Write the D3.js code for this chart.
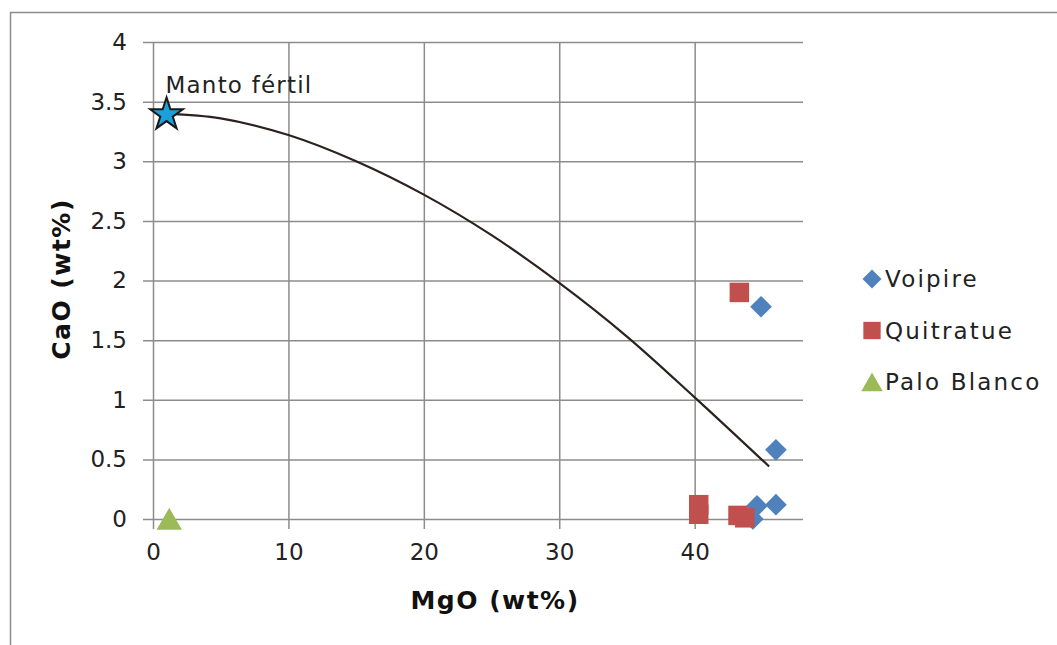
<!DOCTYPE html>
<html>
<head>
<meta charset="utf-8">
<script src="https://cdn.jsdelivr.net/npm/d3@7"></script>
<style>
  html, body { margin: 0; padding: 0; background: #fff; }
  svg { display: block; font-family: "DejaVu Sans", Verdana, sans-serif; }
</style>
</head>
<body>
<svg id="chart" width="1057" height="645"></svg>
<script>
// Series: MgO (wt%) vs CaO (wt%)
const voipireMgO = [44.9, 46.0, 46.0, 44.6, 44.3];
const voipireCaO = [1.78, 0.58, 0.12, 0.11, 0.00];

const quitratueMgO = [43.3, 40.3, 40.3, 43.2, 43.7];
const quitratueCaO = [1.90, 0.12, 0.04, 0.03, 0.01];

const paloBlancoMgO = [1.2];
const paloBlancoCaO = [0.0];

const mantoMgO = [1.0];
const mantoCaO = [3.4];

// Melting trend from fertile mantle
const trendMgO = [1.0, 5, 10, 15, 20, 25, 30, 35, 40, 45.5];
const trendCaO = [3.40, 3.36, 3.22, 3.00, 2.72, 2.38, 1.98, 1.53, 1.02, 0.44];

const xTicks = [0, 10, 20, 30, 40];
const yTicks = [0, 0.5, 1, 1.5, 2, 2.5, 3, 3.5, 4];

const seriesNames = ["Voipire", "Quitratue", "Palo Blanco"];
const colors = { "Voipire": "#4f81bd", "Quitratue": "#c0504d", "Palo Blanco": "#9bbb59" };

const svg = d3.select("#chart");
const plot = { left: 153, right: 803, top: 42, bottom: 519 };

const x = d3.scaleLinear().domain([0, 48]).range([plot.left, plot.right]);
const y = d3.scaleLinear().domain([0, 4]).range([plot.bottom, plot.top]);

// outer chart frame
svg.append("rect")
  .attr("x", 10.5).attr("y", 12.5)
  .attr("width", 1100).attr("height", 700)
  .attr("fill", "none").attr("stroke", "#8c8c8c").attr("stroke-width", 1.5);

const gridColor = "#8c8c8c";

// horizontal gridlines + y axis ticks
const yAxis = d3.axisLeft(y).tickValues(yTicks)
  .tickSize(-(plot.right - plot.left)).tickPadding(14)
  .tickFormat(d => String(d));
const gy = svg.append("g").attr("transform", `translate(${plot.left},0)`).call(yAxis);
gy.select(".domain").remove();
gy.selectAll(".tick line").attr("stroke", gridColor).attr("stroke-width", 1.5)
  .attr("x1", -10);
gy.selectAll(".tick text").attr("font-size", 23).attr("fill", "#222")
  .attr("font-family", "DejaVu Sans, Verdana, sans-serif").attr("x", -26);

// vertical gridlines + x axis ticks
const xAxis = d3.axisBottom(x).tickValues(xTicks)
  .tickSize(-(plot.bottom - plot.top)).tickPadding(20)
  .tickFormat(d => String(d));
const gx = svg.append("g").attr("transform", `translate(0,${plot.bottom})`).call(xAxis);
gx.select(".domain").remove();
gx.selectAll(".tick line").attr("stroke", gridColor).attr("stroke-width", 1.5)
  .attr("y1", 10);
gx.selectAll(".tick text").attr("font-size", 23).attr("fill", "#222")
  .attr("font-family", "DejaVu Sans, Verdana, sans-serif").attr("y", 25);

// axis titles
svg.append("text")
  .attr("x", 495).attr("y", 609)
  .attr("text-anchor", "middle").attr("font-size", 25).attr("font-weight", "bold")
  .attr("letter-spacing", 1.5).attr("fill", "#111")
  .text("MgO  (wt%)");
svg.append("text")
  .attr("transform", `translate(70,279) rotate(-90)`)
  .attr("text-anchor", "middle").attr("font-size", 25).attr("font-weight", "bold")
  .attr("letter-spacing", 1.5).attr("fill", "#111")
  .text("CaO  (wt%)");

// trend curve
const trend = trendMgO.map((m, i) => [m, trendCaO[i]]);
svg.append("path")
  .datum(trend)
  .attr("fill", "none").attr("stroke", "#2b2220").attr("stroke-width", 2.2)
  .attr("d", d3.line().x(d => x(d[0])).y(d => y(d[1])).curve(d3.curveCatmullRom.alpha(0.5)));

// markers
const diamond = d3.symbol().type(d3.symbolSquare).size(235);
const square = d3.symbol().type(d3.symbolSquare).size(380);
const triangle = d3.symbol().type(d3.symbolTriangle).size(280);

function drawSeries(mg, ca, name, sym, rot, dy) {
  svg.append("g").selectAll("path")
    .data(mg.map((m, i) => [m, ca[i]]))
    .join("path")
    .attr("d", sym)
    .attr("transform", d => `translate(${x(d[0])},${y(d[1]) + dy}) rotate(${rot})`)
    .attr("fill", colors[name]);
}
drawSeries(voipireMgO, voipireCaO, "Voipire", diamond, 45, 0);
drawSeries(quitratueMgO, quitratueCaO, "Quitratue", square, 0, 0);
drawSeries(paloBlancoMgO, paloBlancoCaO, "Palo Blanco", triangle, 0, 3.5);

// fertile mantle star
const star = d3.symbol().type(d3.symbolStar).size(330);
svg.append("g").selectAll("path")
  .data(mantoMgO.map((m, i) => [m, mantoCaO[i]]))
  .join("path")
  .attr("d", star)
  .attr("transform", d => `translate(${x(d[0])},${y(d[1]) + 1})`)
  .attr("fill", "#1c9fdb").attr("stroke", "#1a1a1a").attr("stroke-width", 2);
svg.append("text")
  .attr("x", x(mantoMgO[0]) - 1).attr("y", y(mantoCaO[0]) - 21)
  .attr("font-size", 23).attr("letter-spacing", 1.2).attr("fill", "#222")
  .text("Manto fértil");

// legend
const legendSyms = [
  d3.symbol().type(d3.symbolSquare).size(180),
  d3.symbol().type(d3.symbolSquare).size(300),
  d3.symbol().type(d3.symbolTriangle).size(200)
];
const legendRot = [45, 0, 0];
const legendDy = [0, 0, 3];
const lg = svg.append("g");
seriesNames.forEach((name, i) => {
  const cy = 279 + i * 51.5;
  lg.append("path").attr("d", legendSyms[i])
    .attr("transform", `translate(872,${cy + legendDy[i]}) rotate(${legendRot[i]})`)
    .attr("fill", colors[name]);
  lg.append("text").attr("x", 885).attr("y", cy + 8)
    .attr("font-size", 23).attr("letter-spacing", 2.2).attr("fill", "#222")
    .text(name);
});
</script>
</body>
</html>
